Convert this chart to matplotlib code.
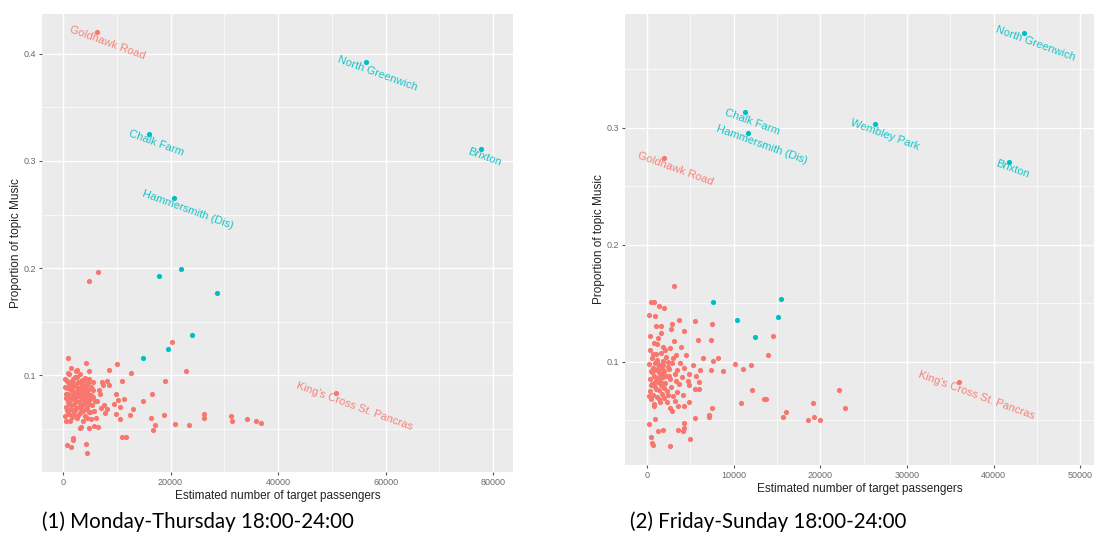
import numpy as np
import matplotlib
matplotlib.use("Agg")
import matplotlib.pyplot as plt
from matplotlib.textpath import TextPath
from matplotlib.font_manager import FontProperties

RED = '#F8766D'
TEAL = '#00BFC4'

# ---- (1) Monday-Thursday 18:00-24:00 ----
mt_red_x = [6300, 50800,
            4800, 6600, 20300, 22800, 19000, 16500, 14900, 13100, 12700, 10000, 10900, 8600,
            9900, 11400, 10300, 9400, 10600, 9900, 12400, 10600, 16300, 18700, 17200, 16800,
            20900, 23500, 26300, 26300, 31300, 31400, 34300, 35900, 36800, 11000, 11800, 1800,
            1800, 700, 1500, 4200, 4400, 1000, 4200, 4900, 2600,
            6700, 7500, 7200, 8100, 8600, 7000, 7600, 8200, 7800, 6600, 5700, 4800, 3400, 3100,
            5300, 6100, 5800, 6300, 5600, 6800,
            400, 500, 600, 700, 800, 900, 1000, 1100, 1200, 1300, 1400, 1500, 1600, 1700, 1800,
            1900, 2000, 2100, 2200, 2300, 2400, 2500, 2600, 2700, 2800, 2900, 3000, 3100, 3200,
            3300, 3400, 3500, 3600, 3700, 3800, 3900, 4000, 4100, 4200, 4300, 4400, 4500, 4600,
            4700, 4800, 4900, 5000, 5200, 5400, 5600,
            300, 450, 550, 650, 750, 850, 950, 1050, 1150, 1250, 1350, 1450, 1550, 1650, 1750,
            1850, 1950, 2050, 2150, 2250, 2350, 2450, 2550, 2650, 2750, 2850, 2950, 3050, 3150,
            3250, 3350, 3450, 3550, 3650, 3750, 3850, 3950, 4050, 4150, 4250, 4350, 4450, 4550,
            4650, 4750, 4850, 5100, 5300, 5500, 5900]
mt_red_y = [0.420, 0.084,
            0.188, 0.196, 0.131, 0.104, 0.095, 0.083, 0.076, 0.069, 0.102, 0.111, 0.095, 0.105,
            0.083, 0.078, 0.077, 0.073, 0.071, 0.064, 0.063, 0.059, 0.060, 0.063, 0.054, 0.049,
            0.055, 0.054, 0.064, 0.060, 0.062, 0.058, 0.059, 0.058, 0.056, 0.043, 0.043, 0.042,
            0.040, 0.035, 0.033, 0.036, 0.028, 0.116, 0.112, 0.104, 0.105,
            0.086, 0.091, 0.094, 0.095, 0.091, 0.070, 0.072, 0.069, 0.065, 0.052, 0.053, 0.051,
            0.052, 0.051, 0.059, 0.060, 0.067, 0.076, 0.080, 0.083,
            0.062, 0.071, 0.079, 0.088, 0.095, 0.066, 0.083, 0.074, 0.101, 0.058, 0.091, 0.069,
            0.086, 0.078, 0.097, 0.063, 0.081, 0.073, 0.092, 0.068, 0.085, 0.076, 0.099, 0.060,
            0.088, 0.071, 0.082, 0.094, 0.065, 0.079, 0.087, 0.072, 0.090, 0.067, 0.084, 0.077,
            0.096, 0.062, 0.080, 0.088, 0.070, 0.085, 0.075, 0.093, 0.066, 0.082, 0.078, 0.089,
            0.072, 0.086,
            0.089, 0.097, 0.058, 0.083, 0.068, 0.102, 0.075, 0.092, 0.064, 0.087, 0.080, 0.107,
            0.072, 0.095, 0.061, 0.084, 0.090, 0.067, 0.099, 0.079, 0.104, 0.070, 0.089, 0.081,
            0.094, 0.063, 0.086, 0.075, 0.101, 0.083, 0.069, 0.096, 0.080, 0.058, 0.091, 0.073,
            0.088, 0.081, 0.098, 0.069, 0.091, 0.077, 0.060, 0.086, 0.073, 0.097, 0.066, 0.082,
            0.094, 0.076]
mt_teal_x = [16000, 20700, 56400, 77700, 17900, 21900, 28600, 24000, 19600, 14900]
mt_teal_y = [0.325, 0.265, 0.392, 0.311, 0.193, 0.199, 0.177, 0.138, 0.125, 0.116]
mt_labels = [('Goldhawk Road', 6300, 0.420, RED),
             ("King's Cross St. Pancras", 50800, 0.084, RED),
             ('Chalk Farm', 16000, 0.325, TEAL),
             ('Hammersmith (Dis)', 20700, 0.265, TEAL),
             ('North Greenwich', 56400, 0.392, TEAL),
             ('Brixton', 77700, 0.311, TEAL)]

# ---- (2) Friday-Sunday 18:00-24:00 ----
fs_red_x = [2000, 35960,
            3100, 500, 800, 1360, 2000, 230, 870, 3700, 2830, 1620, 1060, 5510, 7470, 4260, 5850,
            7400, 14530, 13960, 6450, 8150, 7660, 10110, 11130, 12000, 7400, 8750, 6150, 6040,
            5510, 4830, 4830, 3620, 4260, 7550, 7100, 7100, 5510, 4260, 4260, 3620, 4190, 4940,
            2640, 1250, 1810, 500, 580, 650, 230, 980, 12110, 10830, 13510, 13770, 15660, 16040,
            19170, 19250, 18600, 20000, 22190, 22900,
            200, 300, 350, 400, 450, 500, 550, 600, 650, 700, 750, 800, 850, 900, 950, 1000, 1050,
            1100, 1150, 1200, 1250, 1300, 1350, 1400, 1450, 1500, 1550, 1600, 1650, 1700, 1750,
            1800, 1850, 1900, 1950, 2000, 2100, 2200, 2300, 2400, 2500, 2600, 2700, 2800, 2900,
            3000, 3100, 3200, 3300, 3400, 3500,
            250, 380, 480, 580, 680, 780, 880, 980, 1080, 1180, 1280, 1380, 1480, 1580, 1680,
            1780, 1880, 1980, 2080, 2180, 2280, 2380, 2480, 2580, 2680, 2780, 2880, 3050, 3250,
            3450, 3700, 3800, 3900, 4000, 4100, 4300, 4500, 4700, 4900, 5300, 5700, 6000]
fs_red_y = [0.274, 0.083,
            0.165, 0.151, 0.151, 0.148, 0.146, 0.140, 0.139, 0.136, 0.132, 0.131, 0.131, 0.135,
            0.132, 0.126, 0.119, 0.119, 0.122, 0.106, 0.103, 0.103, 0.101, 0.098, 0.094, 0.097,
            0.093, 0.092, 0.093, 0.077, 0.077, 0.080, 0.066, 0.062, 0.062, 0.061, 0.053, 0.055,
            0.052, 0.048, 0.044, 0.042, 0.041, 0.034, 0.028, 0.041, 0.042, 0.036, 0.031, 0.029,
            0.047, 0.051, 0.076, 0.065, 0.068, 0.068, 0.053, 0.057, 0.065, 0.053, 0.050, 0.050,
            0.076, 0.061,
            0.098, 0.085, 0.075, 0.110, 0.092, 0.068, 0.103, 0.081, 0.095, 0.072, 0.116, 0.088,
            0.064, 0.099, 0.079, 0.107, 0.086, 0.094, 0.070, 0.102, 0.083, 0.120, 0.091, 0.076,
            0.097, 0.066, 0.089, 0.108, 0.080, 0.095, 0.073, 0.101, 0.087, 0.113, 0.069, 0.092,
            0.082, 0.104, 0.075, 0.096, 0.088, 0.061, 0.112, 0.079, 0.099, 0.071, 0.118, 0.090,
            0.084, 0.106, 0.074,
            0.071, 0.122, 0.080, 0.091, 0.107, 0.062, 0.083, 0.093, 0.077, 0.115, 0.098, 0.068,
            0.085, 0.125, 0.090, 0.082, 0.097, 0.078, 0.110, 0.088, 0.066, 0.100, 0.072, 0.094,
            0.085, 0.128, 0.058, 0.103, 0.067, 0.093, 0.081, 0.099, 0.113, 0.087, 0.072, 0.095,
            0.106, 0.084, 0.090, 0.097, 0.088, 0.083]
fs_teal_x = [43470, 11320, 11700, 26340, 41810, 7660, 15470, 10420, 15100, 12450]
fs_teal_y = [0.381, 0.313, 0.295, 0.303, 0.271, 0.151, 0.154, 0.136, 0.138, 0.121]
fs_labels = [('Goldhawk Road', 2000, 0.274, RED),
             ("King's Cross St. Pancras", 35960, 0.083, RED),
             ('Chalk Farm', 11320, 0.313, TEAL),
             ('Hammersmith (Dis)', 11700, 0.295, TEAL),
             ('Wembley Park', 26340, 0.303, TEAL),
             ('North Greenwich', 43470, 0.381, TEAL),
             ('Brixton', 41810, 0.271, TEAL)]

LABEL_FS = 8
ANGLE = -20
lab_prop = FontProperties(family='Liberation Sans', size=LABEL_FS)


def gg_panel(ax, xlim, ylim, xmajor, xminor, ymajor, yminor):
    ax.set_facecolor('#EBEBEB')
    ax.set_xlim(xlim)
    ax.set_ylim(ylim)
    ax.set_xticks(xmajor)
    ax.set_xticks(xminor, minor=True)
    ax.set_yticks(ymajor)
    ax.set_yticks(yminor, minor=True)
    ax.set_xticklabels([str(v) for v in xmajor])
    ax.set_yticklabels([str(v) for v in ymajor])
    ax.grid(which='major', color='white', linewidth=1.0)
    ax.grid(which='minor', color='white', linewidth=0.5)
    ax.set_axisbelow(True)
    for s in ax.spines.values():
        s.set_visible(False)
    ax.tick_params(which='major', length=2.5, width=0.8, color='#555555',
                   labelsize=6.5, labelcolor='#6a6a6a', pad=2)
    ax.tick_params(which='minor', length=0)
    for t in ax.get_xticklabels() + ax.get_yticklabels():
        t.set_family('Liberation Sans')
    ax.set_xlabel('Estimated number of target passengers', fontsize=8.5,
                  family='Liberation Sans', color='#222222', labelpad=2)
    ax.set_ylabel('Proportion of topic Music', fontsize=8.5,
                  family='Liberation Sans', color='#222222', labelpad=1)


def add_labels(ax, labels):
    th = np.deg2rad(ANGLE)
    u = np.array([np.cos(th), np.sin(th)])
    down = np.array([np.sin(th), -np.cos(th)])
    for name, x, y, col in labels:
        L = TextPath((0, 0), name, prop=lab_prop).get_extents().width
        off = 0.18 * L * u + 4.5 * down
        ax.annotate(name, xy=(x, y), xytext=(off[0], off[1]), textcoords='offset points',
                    rotation=ANGLE, rotation_mode='anchor', ha='center', va='center',
                    color=col, alpha=0.9, fontproperties=lab_prop)


fig = plt.figure(figsize=(10.94, 5.33), dpi=100)
ax1 = fig.add_axes([42 / 1094, 61 / 533, 471 / 1094, 458 / 533])
ax2 = fig.add_axes([625 / 1094, 68 / 533, 469 / 1094, 451 / 533])

gg_panel(ax1, (-3900, 83700), (0.010, 0.437),
         [0, 20000, 40000, 60000, 80000], [10000, 30000, 50000, 70000],
         [0.1, 0.2, 0.3, 0.4], [0.05, 0.15, 0.25, 0.35])
ax1.scatter(mt_red_x, mt_red_y, s=14, color=RED, linewidths=0, zorder=3)
ax1.scatter(mt_teal_x, mt_teal_y, s=14, color=TEAL, linewidths=0, zorder=3)
add_labels(ax1, mt_labels)

gg_panel(ax2, (-2540, 51600), (0.012, 0.397),
         [0, 10000, 20000, 30000, 40000, 50000], [5000, 15000, 25000, 35000, 45000],
         [0.1, 0.2, 0.3], [0.05, 0.15, 0.25, 0.35])
ax2.scatter(fs_red_x, fs_red_y, s=14, color=RED, linewidths=0, zorder=3)
ax2.scatter(fs_teal_x, fs_teal_y, s=14, color=TEAL, linewidths=0, zorder=3)
add_labels(ax2, fs_labels)

fig.text(42 / 1094, 11 / 533, '(1) Monday-Thursday 18:00-24:00', fontsize=14.8,
         family='Lato', color='black', va='center', ha='left')
fig.text(630 / 1094, 11 / 533, '(2) Friday-Sunday 18:00-24:00', fontsize=14.8,
         family='Lato', color='black', va='center', ha='left')

fig.savefig('out.png', dpi=100)
